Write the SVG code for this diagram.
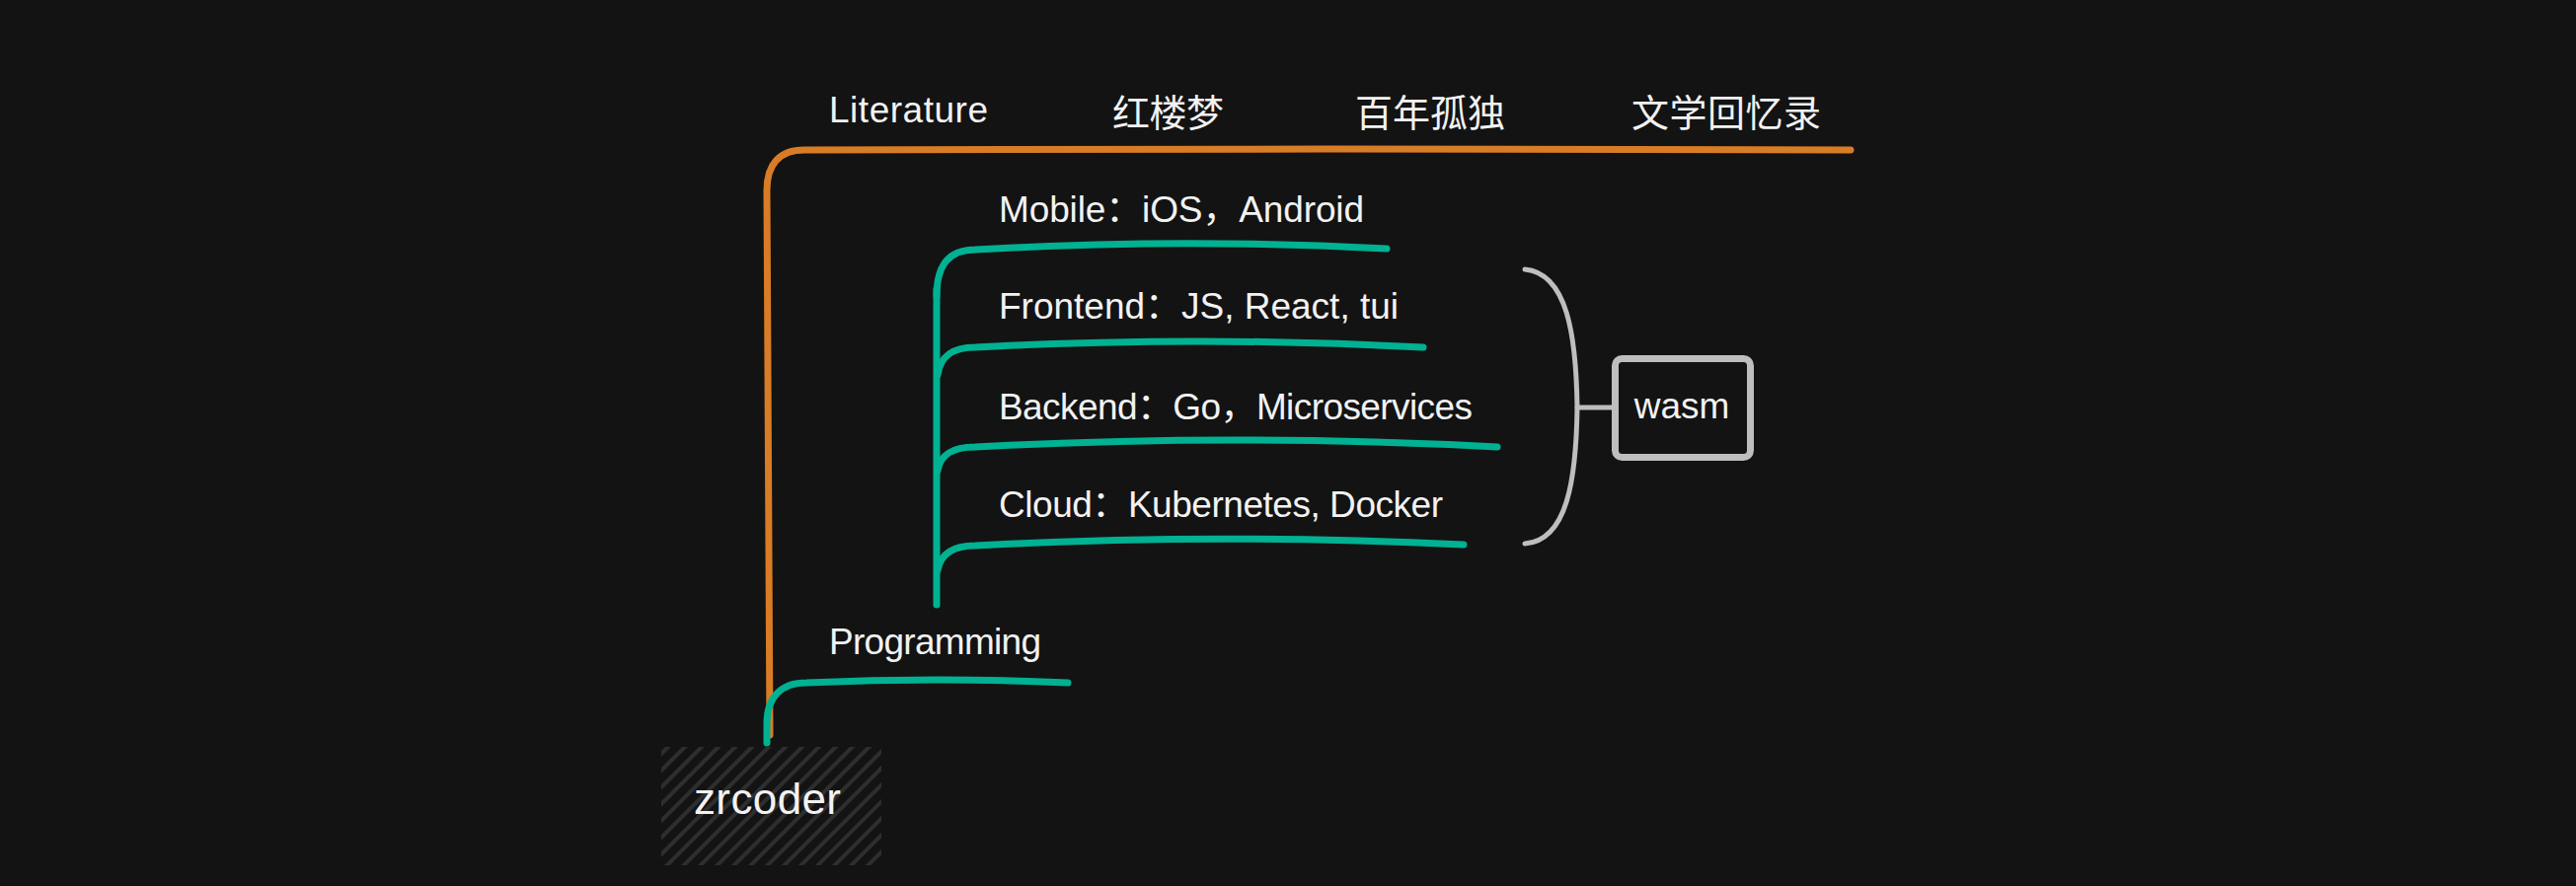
<svg xmlns="http://www.w3.org/2000/svg" width="2610" height="898" viewBox="0 0 2610 898">
<defs>
<style>
.t{font-family:"Liberation Sans","Noto Sans CJK SC",sans-serif;font-size:37px;fill:#f2f2f2}
.cjk{font-family:"Noto Sans CJK SC","Liberation Sans",sans-serif;font-size:38px;fill:#f2f2f2}
.or{fill:none;stroke:#d87c26;stroke-width:7;stroke-linecap:round;stroke-linejoin:round}
.te{fill:none;stroke:#00b192;stroke-width:7;stroke-linecap:round;stroke-linejoin:round}
.gr{fill:none;stroke:#bebebe;stroke-width:5;stroke-linecap:round;stroke-linejoin:round}
</style>
<pattern id="hatch" patternUnits="userSpaceOnUse" width="12" height="12" patternTransform="rotate(45)">
<line x1="6" y1="0" x2="6" y2="12" stroke="#2e2e2e" stroke-width="4"/>
</pattern>
</defs>
<rect width="2610" height="898" fill="#131313"/>
<g id="connectors">
<path class="or" d="M780,745 L777,193 C777,166 790,152 815,152 Q1345,150 1875,152"/>
<path class="te" d="M949,613 L949,293"/>
<path class="te" d="M949,300 C949,268 962,253 988,253 Q1196,241 1405,252"/>
<path class="te" d="M950,380 C953,360 966,352 988,352 Q1215,340 1442,352"/>
<path class="te" d="M950,477 C953,460 966,453 988,453 Q1252,439 1517,453"/>
<path class="te" d="M950,578 C953,561 966,553 988,553 Q1235,540 1483,552"/>
<path class="te" d="M777,753 L777,733 C777,706 792,692 817,692 Q950,686 1082,692"/>
<path class="gr" d="M1545,273 C1588,277 1597,340 1598,413 C1597,486 1588,548 1545,551"/>
<path class="gr" d="M1598,413 L1634,413"/>
</g>
<g id="node-zrcoder">
<rect x="670" y="757" width="223" height="120" fill="url(#hatch)"/>
<text class="t" x="703" y="825" style="font-size:44px" textLength="149">zrcoder</text>
</g>
<g id="node-literature">
<text class="t" x="840" y="124" textLength="161">Literature</text>
</g>
<g id="node-hongloumeng">
<text class="cjk" x="1127" y="128" textLength="113">红楼梦</text>
</g>
<g id="node-bainiangudu">
<text class="cjk" x="1373" y="128" textLength="152">百年孤独</text>
</g>
<g id="node-wenxuehuiyilu">
<text class="cjk" x="1653" y="128" textLength="192">文学回忆录</text>
</g>
<g id="node-programming">
<text class="t" x="840" y="663" textLength="215">Programming</text>
</g>
<g id="node-mobile">
<text class="t" x="1012" y="225" textLength="370">Mobile：iOS，Android</text>
</g>
<g id="node-frontend">
<text class="t" x="1012" y="323" textLength="405">Frontend：JS, React, tui</text>
</g>
<g id="node-backend">
<text class="t" x="1012" y="425" textLength="480">Backend：Go，Microservices</text>
</g>
<g id="node-cloud">
<text class="t" x="1012" y="524" textLength="450">Cloud：Kubernetes, Docker</text>
</g>
<g id="node-wasm">
<rect x="1636.5" y="363.5" width="137" height="100" rx="7" fill="none" stroke="#bebebe" stroke-width="7"/>
<text class="t" x="1704" y="424" text-anchor="middle">wasm</text>
</g>
</svg>
